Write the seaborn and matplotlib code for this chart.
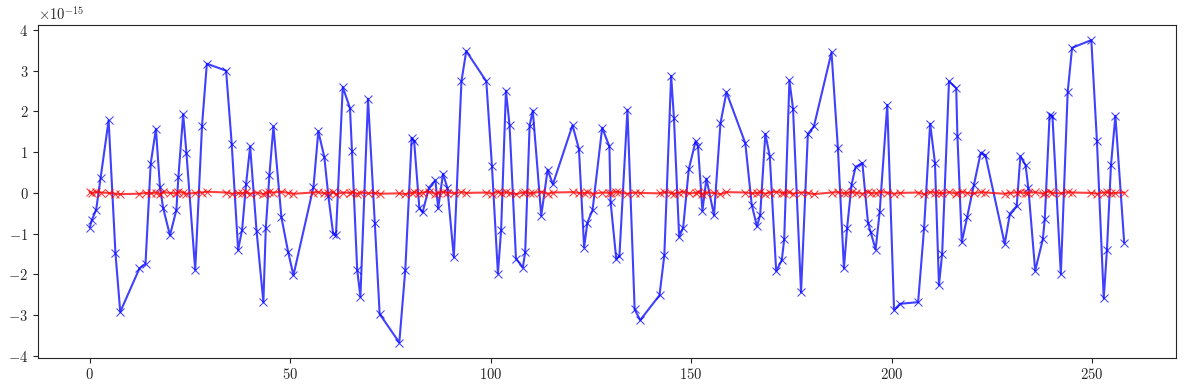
import numpy as np
import pandas as pd
import matplotlib
matplotlib.use("Agg")
import matplotlib.pyplot as plt
import seaborn as sns

# sample positions (shared by both series)
x_pos = [
    0.0, 0.5, 1.6, 2.7, 4.7, 6.4, 7.6, 12.4, 13.9, 15.2,
    16.5, 17.5, 18.3, 20.0, 21.6, 22.1, 23.3, 24.1, 26.3, 28.0,
    29.2, 34.0, 35.4, 37.0, 38.0, 39.0, 40.0, 41.6, 43.3, 43.9,
    44.8, 45.8, 47.8, 49.5, 50.8, 55.8, 57.0, 58.5, 59.5, 60.7,
    61.4, 63.1, 64.9, 65.4, 66.7, 67.5, 69.4, 71.1, 72.3, 77.2,
    78.7, 80.3, 80.9, 82.2, 83.0, 84.6, 86.2, 86.9, 88.1, 89.2,
    90.8, 92.7, 93.9, 98.9, 100.3, 101.8, 102.6, 103.8, 104.7, 106.3,
    108.0, 108.6, 109.7, 110.5, 112.6, 114.2, 115.5, 120.4, 122.0, 123.3,
    124.1, 125.4, 127.8, 129.6, 129.9, 131.3, 132.1, 134.1, 135.9, 137.3,
    142.1, 143.3, 145.0, 145.7, 147.0, 148.0, 149.4, 151.1, 151.7, 152.8,
    153.8, 155.7, 157.3, 158.8, 163.5, 165.1, 166.4, 167.2, 168.5, 169.6,
    171.2, 172.6, 173.2, 174.5, 175.4, 177.4, 179.1, 180.6, 185.0, 186.6,
    188.1, 188.9, 190.0, 191.0, 192.7, 194.1, 194.8, 196.0, 197.0, 198.9,
    200.6, 202.1, 206.6, 208.1, 209.6, 210.8, 211.8, 212.6, 214.3, 216.1,
    216.4, 217.5, 218.8, 220.5, 222.2, 223.4, 228.2, 229.5, 231.2, 232.1,
    233.4, 234.1, 235.8, 237.7, 238.2, 239.4, 240.1, 242.2, 243.9, 245.0,
    249.8, 251.2, 252.9, 253.7, 254.7, 255.8, 258.0,
]

# blue series, units of 1e-15
blue_vals = [
    -0.85, -0.67, -0.41, 0.37, 1.78, -1.47, -2.92, -1.85, -1.74, 0.72,
    1.57, 0.15, -0.37, -1.04, -0.42, 0.39, 1.93, 0.99, -1.89, 1.65,
    3.17, 3.00, 1.21, -1.40, -0.90, 0.23, 1.14, -0.93, -2.68, -0.87,
    0.43, 1.63, -0.60, -1.46, -2.02, 0.15, 1.51, 0.88, -0.07, -1.00,
    -1.04, 2.60, 2.08, 1.02, -1.89, -2.55, 2.31, -0.75, -2.97, -3.67,
    -1.88, 1.35, 1.27, -0.37, -0.48, 0.13, 0.31, -0.38, 0.47, 0.12,
    -1.58, 2.74, 3.48, 2.74, 0.67, -1.98, -0.90, 2.51, 1.66, -1.61,
    -1.83, -1.46, 1.65, 2.02, -0.56, 0.57, 0.21, 1.66, 1.08, -1.34,
    -0.73, -0.42, 1.60, 1.14, -0.22, -1.61, -1.55, 2.04, -2.86, -3.12,
    -2.51, -1.53, 2.87, 1.84, -1.08, -0.85, 0.58, 1.27, 1.14, -0.44,
    0.35, -0.55, 1.71, 2.47, 1.22, -0.29, -0.82, -0.55, 1.45, 0.90,
    -1.92, -1.65, -1.14, 2.76, 2.07, -2.44, 1.45, 1.63, 3.45, 1.09,
    -1.85, -0.85, 0.20, 0.64, 0.73, -0.73, -0.97, -1.39, -0.48, 2.16,
    -2.87, -2.72, -2.68, -0.85, 1.70, 0.74, -2.26, -1.49, 2.74, 2.57,
    1.40, -1.21, -0.60, 0.19, 0.98, 0.92, -1.25, -0.51, -0.32, 0.90,
    0.68, 0.11, -1.91, -1.14, -0.63, 1.92, 1.89, -1.99, 2.47, 3.56,
    3.75, 1.27, -2.59, -1.39, 0.68, 1.89, -1.22,
]

# red series, units of 1e-15 (stays close to zero)
red_vals = [
    0.02, -0.01, 0.03, 0.01, 0.00, -0.02, -0.03, -0.02, 0.00, -0.01,
    0.01, -0.03, 0.02, 0.00, -0.01, 0.02, 0.01, -0.02, 0.00, 0.01,
    0.03, 0.01, -0.02, 0.00, -0.01, 0.02, -0.02, 0.01, -0.03, 0.00,
    0.02, 0.01, 0.03, 0.00, -0.02, 0.01, 0.02, -0.01, 0.00, 0.02,
    -0.03, 0.01, 0.00, 0.02, -0.02, 0.01, -0.01, 0.00, -0.02, -0.01,
    -0.03, 0.00, 0.02, -0.01, 0.01, 0.03, -0.02, 0.00, 0.02, 0.01,
    -0.01, 0.02, 0.00, 0.01, -0.02, 0.03, -0.01, 0.02, 0.00, -0.03,
    0.01, 0.02, -0.01, 0.00, 0.03, -0.02, 0.01, 0.02, 0.00, -0.01,
    0.02, -0.02, 0.01, 0.00, -0.01, 0.03, 0.02, -0.02, 0.01, 0.00,
    -0.01, 0.02, 0.00, -0.02, 0.01, 0.03, -0.01, 0.00, 0.02, -0.02,
    0.01, 0.00, -0.03, 0.02, 0.01, -0.01, 0.00, 0.02, -0.02, 0.01,
    0.03, 0.00, -0.01, 0.02, -0.02, 0.01, 0.00, -0.03, 0.01, 0.02,
    -0.01, 0.00, 0.02, 0.01, -0.02, 0.03, 0.00, -0.01, 0.02, 0.01,
    -0.02, 0.00, 0.01, -0.03, 0.02, 0.01, 0.00, -0.01, 0.02, -0.02,
    0.01, 0.03, 0.00, -0.01, 0.02, 0.01, -0.02, 0.00, 0.01, 0.02,
    -0.01, 0.00, 0.02, -0.02, 0.01, 0.03, 0.00, -0.01, 0.02, 0.01,
    0.00, -0.02, 0.01, 0.02, -0.01, 0.00, 0.01,
]

sns.set_style("ticks")
plt.rcParams["font.family"] = "serif"
plt.rcParams["font.serif"] = ["cmr10", "DejaVu Serif"]
plt.rcParams["mathtext.fontset"] = "cm"
plt.rcParams["axes.formatter.use_mathtext"] = True
plt.rcParams["font.size"] = 10.5

df = pd.DataFrame({
    "x": x_pos,
    "blue": np.array(blue_vals) * 1e-15,
    "red": np.array(red_vals) * 1e-15,
})

fig, ax = plt.subplots(figsize=(11.89, 3.9), dpi=100)
sns.lineplot(data=df, x="x", y="blue", color="blue", alpha=0.75,
             marker="x", markersize=6, markeredgecolor="blue",
             linewidth=1.5, estimator=None, ax=ax)
sns.lineplot(data=df, x="x", y="red", color="red", alpha=0.75,
             marker="x", markersize=6, markeredgecolor="red",
             linewidth=1.5, estimator=None, ax=ax)
ax.set_xlabel("")
ax.set_ylabel("")
ax.set_xticks([0, 50, 100, 150, 200, 250])
fig.subplots_adjust(left=0.032, right=0.989, top=0.936, bottom=0.083)
plt.savefig("out.png", dpi=100)
